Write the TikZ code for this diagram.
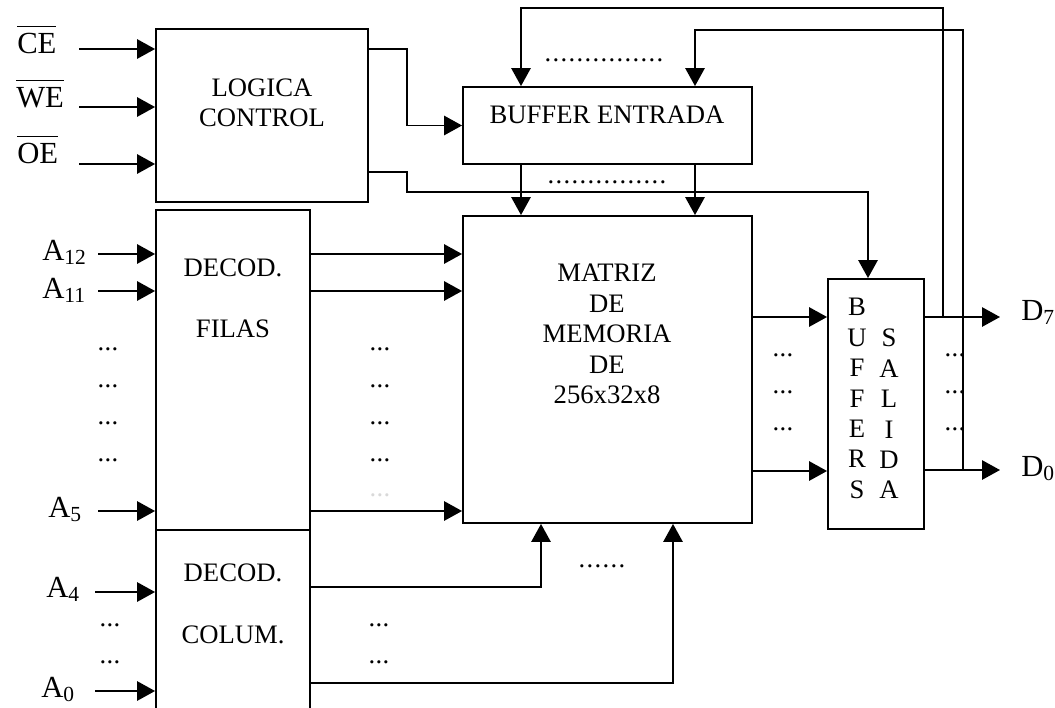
\documentclass[tikz,border=0pt]{standalone}
\usepackage{fontspec}
\setmainfont{Liberation Serif}
\usetikzlibrary{arrows.meta,fit}
\newcommand{\blkfont}{\fontsize{20}{22.8}\selectfont}
\newcommand{\pinfont}{\fontsize{23}{27}\selectfont}
\newcommand{\negado}[1]{$\overline{\hbox{\rule{0pt}{19pt}#1}}$}
\newcommand{\tres}{\makebox[15.5pt]{.\hfill.\hfill.}}

\begin{document}
\begin{tikzpicture}[x=0.75pt,y=-0.75pt,
  blk/.style={draw,line width=1.4pt,inner sep=0pt},
  txt/.style={align=center,font=\blkfont,inner sep=0pt},
  pin/.style={font=\pinfont,inner sep=0pt,anchor=base west},
  flow/.style={line width=1.4pt,-{Triangle[length=13.5pt,width=14.5pt]}},
  dts/.style={font=\blkfont,inner sep=0pt}]
\useasboundingbox (0,0) rectangle (1055,707);
\clip (0,0) rectangle (1055,707);

% bloques
\node[blk,fit={(156,29) (368,202)}] (logica) {};
\node[blk,fit={(463,87) (752,164)}] (bufent) {};
\node[blk,fit={(156,210) (310,530)}] (filas) {};
\node[blk,fit={(156,530) (310,730)}] (colum) {};
\node[blk,fit={(463,216) (752,523)}] (matriz) {};
\node[blk,fit={(828,279) (924,529)}] (bufsal) {};

\node[txt] (logicatxt) at (262,102.5) {LOGICA\\CONTROL};
\node[txt] (bufenttxt) at (607,115) {BUFFER ENTRADA};
\node[txt] (filastxt) at (233,298) {DECOD.\\[22.8pt]FILAS};
\node[txt] (columtxt) at (233,604) {DECOD.\\[23.5pt]COLUM.};
\node[txt] (matriztxt) at (607,334) {MATRIZ\\DE\\MEMORIA\\DE\\256x32x8};
\node[txt] (bufsaltxt) at (857,398.5) {B\\U\\F\\F\\E\\R\\S};
\node[txt] (salidatxt) at (889,414) {S\\A\\L\\I\\D\\A};

% entradas de control
\node[pin] (ce) at (17,53) {\negado{CE}};
\node[pin] (we) at (16,107) {\negado{WE}};
\node[pin] (oe) at (17,163) {\negado{OE}};
\foreach \y in {49,107,164} {
  \coordinate (ctl\y) at (79,\y);
  \draw[flow] (ctl\y) -- (ctl\y -| logica.west);
}
\draw[flow] (logica.east |- ctl49) -- ++(38,0) |- (bufent.west);
\draw[flow] (logica.east |- 0,172) -- ++(38,0) -- ++(0,20) -| (bufsal.north -| 868,0);

% direcciones
\node[pin] (a12) at (42,260) {A\textsubscript{12}};
\node[pin] (a11) at (42,298) {A\textsubscript{11}};
\node[pin] (a5) at (48,517) {A\textsubscript{5}};
\node[pin] (a4) at (46,597) {A\textsubscript{4}};
\node[pin] (a0) at (41,697) {A\textsubscript{0}};
\foreach \y in {254,291,511} {
  \coordinate (fil\y) at (98,\y);
  \draw[flow] (fil\y) -- (fil\y -| filas.west);
  \draw[flow] (filas.east |- fil\y) -- (matriz.west |- fil\y);
}
\foreach \y in {592,691} {
  \coordinate (col\y) at (95,\y);
  \draw[flow] (col\y) -- (col\y -| colum.west);
}
\draw[flow] (colum.east |- 0,587) -| (matriz.south -| 541,0);
\draw[flow] (colum.east |- 0,683) -| (matriz.south -| 673,0);

% buffers y matriz
\foreach \x in {521,695} \draw[flow] (bufent.south -| \x,0) -- (matriz.north -| \x,0);
\foreach \y in {317,471} \draw[flow] (matriz.east |- 0,\y) -- (bufsal.west |- 0,\y);

% salidas y realimentacion
\node[pin] (d7) at (1021,320) {D\textsubscript{7}};
\node[pin] (d0) at (1021,476) {D\textsubscript{0}};
\coordinate (out7) at (1000,317);
\coordinate (out0) at (1000,470);
\draw[flow] (bufsal.east |- out7) -- (out7);
\draw[flow] (bufsal.east |- out0) -- (out0);
\coordinate (fb7) at (943,8);
\coordinate (fb0) at (963,30);
\draw[flow] (fb7 |- out7) -- (fb7) -| (bufent.north -| 521,0);
\draw[flow] (fb0 |- out0) -- (fb0) -| (bufent.north -| 695,0);

% puntos
\foreach \y in {349,386,423,460} {
  \node[dts] (pf\y) at (108,\y) {\tres};
  \node[dts] (pm\y) at (380,\y) {\tres};
}
\node[dts,text=black!15] (pm495) at (380,495) {\tres};
\foreach \y in {625,662} {
  \node[dts] (pc\y) at (110,\y) {\tres};
  \node[dts] (pd\y) at (379,\y) {\tres};
}
\foreach \y in {355,392,429} {
  \node[dts] (ps\y) at (783,\y) {\tres};
  \node[dts] (pt\y) at (955,\y) {\tres};
}
\node[dts] (bussup) at (604,60) {\makebox[89pt]{.\hfill.\hfill.\hfill.\hfill.\hfill.\hfill.\hfill.\hfill.\hfill.\hfill.\hfill.\hfill.\hfill.\hfill.}};
\node[dts] (businf) at (607,182) {\makebox[89pt]{.\hfill.\hfill.\hfill.\hfill.\hfill.\hfill.\hfill.\hfill.\hfill.\hfill.\hfill.\hfill.\hfill.\hfill.}};
\node[dts] (buscol) at (602,566) {\makebox[35pt]{.\hfill.\hfill.\hfill.\hfill.\hfill.}};
\end{tikzpicture}
\end{document}
